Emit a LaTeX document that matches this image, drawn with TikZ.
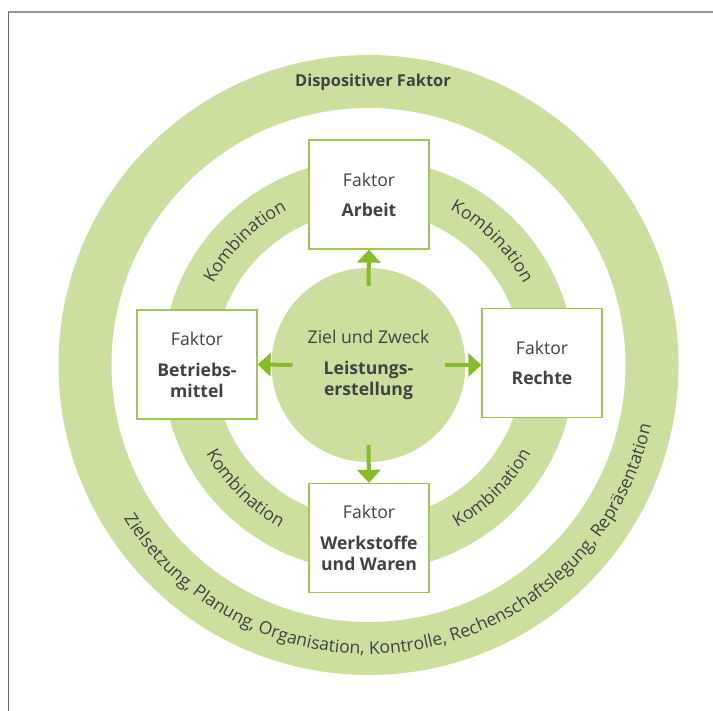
\documentclass[tikz,border=0pt]{standalone}
\usepackage{fontspec}
\setmainfont{Open Sans}
\usetikzlibrary{arrows.meta,calc,decorations.text}
\definecolor{ringg}{RGB}{205,223,158}
\definecolor{arrowg}{RGB}{134,188,37}
\definecolor{boxg}{RGB}{160,200,80}
\definecolor{txt}{RGB}{66,66,66}
\definecolor{frameg}{RGB}{150,150,150}
\definecolor{frameg2}{RGB}{110,110,110}
\newcommand\dfont{\fontsize{17.6}{21}\selectfont}
\newcommand\tfont{\fontsize{16.4}{21}\selectfont}
\tikzset{
  faktorbox/.style={draw=boxg, line width=1.3pt, fill=white, minimum width=120pt,
    minimum height=109pt, inner sep=0pt, align=center, text=txt, font=\dfont},
  arr/.style={-{Triangle[width=23pt,length=13pt]}, line width=4pt, draw=arrowg},
  curvtext/.style={decorate, decoration={text along path, text align=center,
    text color=txt, text={|\dfont|#1}}}
}
\begin{document}
\begin{tikzpicture}[x=1pt,y=1pt]
\useasboundingbox (0,0) rectangle (713,711);
\draw[frameg, line width=1.5pt] (8,699) -- (713,699);
\draw[frameg2, line width=0.8pt] (8,699) -- (8,0);
\coordinate (C) at (368.5,346);
% rings
\fill[ringg, even odd rule] (C) circle[radius=310pt] (C) circle[radius=257pt];
\fill[ringg, even odd rule] (C) circle[radius=206pt] (C) circle[radius=154pt];
% centre
\node[circle, fill=ringg, minimum size=194pt, inner sep=0pt, align=center,
  text=txt, font=\dfont] (mid) at (C)
  {Ziel und Zweck\\[10pt]\textbf{Leistungs-}\\\textbf{erstellung}};
% boxes
\node[faktorbox] (arb) at (369,516.5) {Faktor\\[9pt]\textbf{Arbeit}};
\node[faktorbox] (bm) at (197,346.5) {Faktor\\[10pt]\textbf{Betriebs-}\\\textbf{mittel}};
\node[faktorbox] (re) at (542,348) {Faktor\\[9pt]\textbf{Rechte}};
\node[faktorbox] (ws) at (369,173) {Faktor\\[10pt]\textbf{Werkstoffe}\\\textbf{und Waren}};
% arrows
\coordinate (su) at ($(C)+(90:79pt)$);
\coordinate (sl) at ($(C)+(180:76pt)$);
\coordinate (sr) at ($(C)+(0:76pt)$);
\coordinate (sd) at ($(C)+(270:80pt)$);
\draw[arr] (su) -- (arb.south);
\draw[arr] (sl) -- (bm.east);
\draw[arr] (sr) -- (re.west |- sr);
\draw[arr] (sd) -- (ws.north);
% title
\node[anchor=base, font=\tfont\bfseries, text=txt] (title) at (373,624) {Dispositiver Faktor};
% curved texts
\path[curvtext=Kombination] ($(C)+(175:175pt)$) arc[start angle=175, end angle=95, radius=175pt];
\path[curvtext=Kombination] ($(C)+(85:175pt)$) arc[start angle=85, end angle=5, radius=175pt];
\path[curvtext=Kombination] ($(C)+(185:185pt)$) arc[start angle=185, end angle=265, radius=185pt];
\path[curvtext=Kombination] ($(C)+(275:185pt)$) arc[start angle=275, end angle=355, radius=185pt];
\path[curvtext={Zielsetzung, Planung, Organisation, Kontrolle, Rechenschaftslegung, Repräsentation}]
  ($(C)+(195:289pt)$) arc[start angle=195, end angle=365, radius=289pt];
\end{tikzpicture}
\end{document}
